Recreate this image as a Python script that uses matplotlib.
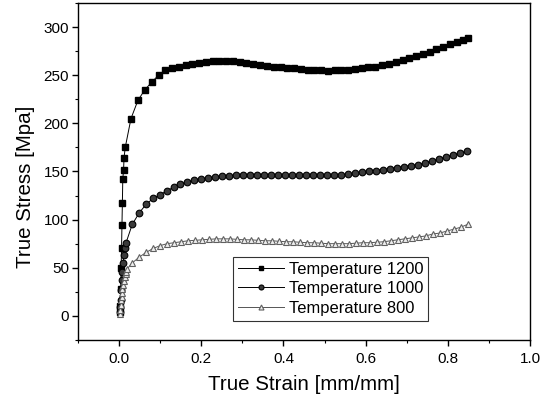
import matplotlib
matplotlib.use("Agg")
import matplotlib.pyplot as plt
from matplotlib.ticker import MultipleLocator

plt.rcParams['font.family'] = ['Liberation Sans', 'DejaVu Sans']

# ---- data: Temperature 1200 ----
strain_1200 = [0.002, 0.003, 0.004, 0.005, 0.006, 0.007, 0.008, 0.009, 0.011, 0.012,
               0.015, 0.029, 0.046, 0.063, 0.080, 0.096, 0.112,
               0.129, 0.145, 0.162, 0.178, 0.195, 0.211, 0.228, 0.244, 0.261, 0.277,
               0.294, 0.310, 0.327, 0.343, 0.360, 0.376, 0.393, 0.409, 0.426, 0.442,
               0.459, 0.475, 0.492, 0.508, 0.525, 0.541, 0.558, 0.574, 0.591, 0.607,
               0.624, 0.640, 0.657, 0.673, 0.690, 0.706, 0.723, 0.739, 0.756, 0.772,
               0.789, 0.805, 0.822, 0.838, 0.850]
stress_1200 = [4, 10, 28, 50, 70, 94, 117, 142, 152, 164,
               175, 205, 224, 235, 243, 250, 255,
               257, 259, 261, 262, 263, 264, 264.5, 265, 265, 265,
               264, 263, 262, 261, 260, 259, 258, 257.5, 257, 256,
               255.5, 255, 255, 254.5, 255, 255, 255.5, 256, 257, 258,
               259, 261, 262, 264, 266, 268, 270, 272, 274, 277,
               279, 282, 284, 287, 289]

# ---- data: Temperature 1000 ----
strain_1000 = [0.002, 0.003, 0.004, 0.005, 0.006, 0.008, 0.010, 0.012, 0.014,
               0.017, 0.032, 0.049, 0.066, 0.083, 0.100, 0.117, 0.134, 0.149, 0.166,
               0.183, 0.200, 0.217, 0.234, 0.251, 0.268, 0.285, 0.302, 0.319, 0.336,
               0.353, 0.370, 0.387, 0.404, 0.421, 0.438, 0.455, 0.472, 0.489, 0.506,
               0.523, 0.540, 0.557, 0.574, 0.591, 0.608, 0.625, 0.642, 0.659, 0.676,
               0.693, 0.710, 0.727, 0.744, 0.761, 0.778, 0.795, 0.812, 0.829, 0.846]
stress_1000 = [4, 9, 17, 27, 37, 46, 55, 63, 70,
               76, 95, 107, 116, 122, 126, 130, 134, 137, 139,
               141, 142, 143, 144, 145, 145.5, 146, 146, 146.5, 146.5,
               146.5, 146.5, 146, 146, 146, 146, 146, 146, 146, 146,
               146, 146.5, 147, 148, 149, 150, 151, 152, 153, 154,
               155, 156, 157, 159, 161, 163, 165, 167, 169, 171]

# ---- data: Temperature 800 ----
strain_800 = [0.002, 0.003, 0.004, 0.005, 0.006, 0.007, 0.008, 0.010, 0.012, 0.014,
              0.016, 0.018, 0.020,
              0.032, 0.049, 0.066, 0.083, 0.100, 0.117, 0.134, 0.151, 0.168, 0.185,
              0.202, 0.219, 0.236, 0.253, 0.270, 0.287, 0.304, 0.321, 0.338, 0.355,
              0.372, 0.389, 0.406, 0.423, 0.440, 0.457, 0.474, 0.491, 0.508, 0.525,
              0.542, 0.559, 0.576, 0.593, 0.610, 0.627, 0.644, 0.661, 0.678, 0.695,
              0.712, 0.729, 0.746, 0.763, 0.780, 0.797, 0.814, 0.831, 0.848]
stress_800 = [2, 6, 11, 16, 20, 24, 28, 32, 36, 40,
              43, 46, 49,
              55, 61, 66, 70, 73, 75, 76, 77, 78, 78.5,
              79, 79.5, 80, 80, 80, 79.5, 79, 79, 78.5, 78,
              78, 77.5, 77, 77, 76.5, 76, 76, 75.5, 75, 75,
              75, 75, 75.5, 76, 76, 76.5, 77, 78, 79, 80,
              81, 82, 83, 85, 86, 88, 90, 92, 95]

labels = ["Temperature 1200", "Temperature 1000", "Temperature 800"]
x_ticks = [0.0, 0.2, 0.4, 0.6, 0.8, 1.0]
y_ticks = [0, 50, 100, 150, 200, 250, 300]

fig = plt.figure(figsize=(5.5, 3.99), dpi=100)
ax = fig.add_axes([0.1418, 0.148, 0.8218, 0.8445])

ax.plot(strain_1200, stress_1200, color='black', lw=0.7, marker='s', ms=4.8,
        mfc='black', mec='black', label=labels[0])
ax.plot(strain_1000, stress_1000, color='black', lw=0.7, marker='o', ms=4.8,
        mfc='#3a3a3a', mec='black', mew=0.8, label=labels[1])
ax.plot(strain_800, stress_800, color='#555555', lw=0.7, marker='^', ms=4.8,
        mfc='#eeeeee', mec='#606060', mew=0.8, label=labels[2])

ax.set_xlim(-0.1, 1.0)
ax.set_ylim(-25, 325)
ax.set_xticks(x_ticks)
ax.set_xticklabels([f"{v:.1f}" for v in x_ticks])
ax.set_yticks(y_ticks)
ax.xaxis.set_minor_locator(MultipleLocator(0.1))
ax.yaxis.set_minor_locator(MultipleLocator(25))
ax.tick_params(which='major', direction='out', length=4, width=1, labelsize=11,
               pad=2.5, top=False, right=False)
ax.tick_params(axis='x', which='major', pad=5)
ax.tick_params(which='minor', direction='out', length=2.5, width=0.8,
               top=False, right=False)
for s in ax.spines.values():
    s.set_linewidth(1.0)

ax.set_xlabel("True Strain [mm/mm]", fontsize=14.8)
ax.set_ylabel("True Stress [Mpa]", fontsize=14.8)
ax.xaxis.set_label_coords(0.5, -0.104)
ax.yaxis.set_label_coords(-0.095, 0.454)

leg = ax.legend(loc='lower left', bbox_to_anchor=(0.342, 0.057), fontsize=11.9,
                frameon=True, fancybox=False, edgecolor='black',
                handlelength=2.8, borderpad=0.3, labelspacing=0.28,
                handletextpad=0.3, borderaxespad=0.0, markerscale=0.75)
leg.get_frame().set_linewidth(0.8)

fig.savefig("out.png", dpi=100)
